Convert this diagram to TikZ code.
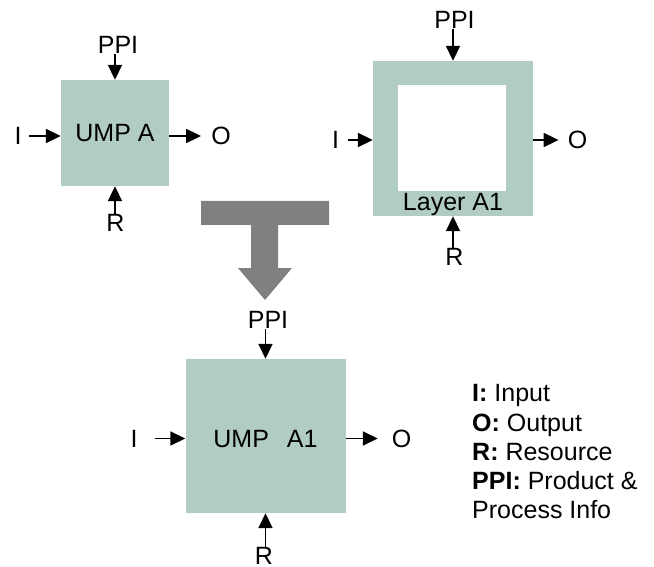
\documentclass[tikz,border=0pt]{standalone}
\usepackage{fontspec}
\setmainfont{Liberation Sans}
\usetikzlibrary{arrows.meta}
\definecolor{boxc}{RGB}{176,204,197}
\definecolor{tgray}{RGB}{128,128,128}
\tikzset{
  box/.style={fill=boxc, draw=none, inner sep=0, font=\fontsize{25}{29}\selectfont},
  lbl/.style={inner sep=0, font=\fontsize{25}{29}\selectfont},
  leg/.style={inner sep=0, anchor=base west, font=\fontsize{25}{29}\selectfont},
  arr/.style={-{Triangle[length=15pt,width=14pt]}, line width=1.8pt},
}
\begin{document}
\begin{tikzpicture}[x=1pt,y=-1pt]
\useasboundingbox (0,0) rectangle (654,567);
% ---- UMP A ----
\node[box, minimum width=108pt, minimum height=106pt] (A) at (115,133) {UMP A};
\node[lbl] (ppiA) at (118,45) {PPI};
\node[lbl] (iA) at (18,136) {I};
\node[lbl] (oA) at (221,136) {O};
\node[lbl] (rA) at (115.5,223) {R};
\draw[arr] (A.north |- ppiA.south) -- (A.north);
\draw[arr] (A.south |- rA.north) -- (A.south);
\draw[arr] ([xshift=7pt]iA.east) -- (iA.east -| A.west);
\draw[arr] (A.east |- oA.west) -- ([xshift=-10pt]oA.west);
% ---- Layer A1 ----
\node[box, minimum width=160pt, minimum height=155pt] (L) at (453,138.5) {};
\node[fill=white, inner sep=0, minimum width=108pt, minimum height=106pt] (Lin) at (452,138) {};
\node[lbl, anchor=base] (Ltxt) at (453,210.5) {Layer A1};
\node[lbl] (ppiL) at (454.5,20) {PPI};
\node[lbl] (iL) at (335.5,140) {I};
\node[lbl] (oL) at (577.5,140) {O};
\node[lbl] (rL) at (454.5,256.5) {R};
\draw[arr] (L.north |- ppiL.south) -- (L.north);
\draw[arr] (L.south |- rL.north) -- (L.south);
\draw[arr] ([xshift=9pt]iL.east) -- (iL.east -| L.west);
\draw[arr] (L.east |- oL.west) -- ([xshift=-9pt]oL.west);
% ---- transformation arrow ----
\draw[fill=tgray, draw=none] (201,201) -- (329,201) -- (329,225) -- (278,225) -- (278,268)
  -- (292,268) -- (265,300) -- (238,268) -- (251,268) -- (251,225) -- (201,225) -- cycle;
% ---- UMP A1 ----
\node[box, minimum width=160pt, minimum height=154pt, text height=23pt] (B) at (265.5,436) {UMP\hspace{18pt}A1};
\node[lbl] (ppiB) at (268,320) {PPI};
\node[lbl] (iB) at (134,438.5) {I};
\node[lbl] (oB) at (401.7,438.5) {O};
\node[lbl] (rB) at (264,555.5) {R};
\draw[arr] (B.north |- ppiB.south) -- (B.north);
\draw[arr] (B.south |- rB.north) -- (B.south);
\draw[arr] ([xshift=17pt]iB.east) -- (iB.east -| B.west);
\draw[arr] (B.east |- oB.west) -- ([xshift=-14pt]oB.west);
% ---- legend ----
\node[leg] (l1) at (472,401.7) {\textbf{I:} Input};
\node[leg] (l2) at (472,431) {\textbf{O:} Output};
\node[leg] (l3) at (472,460.7) {\textbf{R:} Resource};
\node[leg] (l4) at (472,489) {\textbf{PPI:} Product \&};
\node[leg] (l5) at (472,518.5) {Process Info};
\end{tikzpicture}
\end{document}
